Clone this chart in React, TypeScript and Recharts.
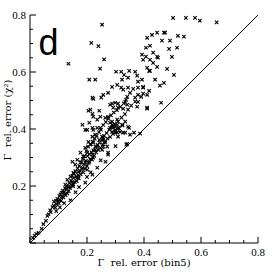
import React from 'react';
import { ScatterChart, Scatter, XAxis, YAxis, ReferenceLine, Label } from 'recharts';

// [bin5 rel. error, chi2 rel. error]
const coreBand: [number, number][] = [
  [0.010, 0.018], [0.016, 0.026], [0.022, 0.032], [0.030, 0.036], [0.041, 0.050], [0.047, 0.066],
  [0.056, 0.078], [0.061, 0.095], [0.065, 0.101], [0.071, 0.115], [0.073, 0.108], [0.079, 0.126],
  [0.083, 0.131], [0.084, 0.145], [0.089, 0.124], [0.091, 0.149], [0.093, 0.136], [0.096, 0.155],
  [0.099, 0.147], [0.101, 0.139], [0.103, 0.165], [0.105, 0.152], [0.107, 0.171], [0.109, 0.148],
  [0.111, 0.176], [0.113, 0.163], [0.115, 0.184], [0.117, 0.160], [0.119, 0.179], [0.121, 0.171],
  [0.123, 0.192], [0.125, 0.168], [0.127, 0.187], [0.129, 0.201], [0.131, 0.174], [0.133, 0.196],
  [0.136, 0.182], [0.138, 0.210], [0.141, 0.193], [0.144, 0.219], [0.146, 0.203], [0.148, 0.236],
  [0.151, 0.199], [0.153, 0.228], [0.155, 0.244], [0.157, 0.214], [0.159, 0.252], [0.162, 0.233],
  [0.164, 0.217], [0.167, 0.262], [0.169, 0.238], [0.171, 0.227], [0.173, 0.270], [0.175, 0.253],
  [0.178, 0.241], [0.180, 0.284], [0.182, 0.259], [0.185, 0.295], [0.187, 0.248], [0.189, 0.276],
  [0.191, 0.305], [0.193, 0.261], [0.196, 0.288], [0.198, 0.322], [0.200, 0.270], [0.202, 0.305],
  [0.204, 0.338], [0.206, 0.281], [0.208, 0.312], [0.211, 0.294], [0.213, 0.347], [0.216, 0.318],
  [0.218, 0.292], [0.220, 0.356], [0.222, 0.325], [0.225, 0.306], [0.227, 0.366], [0.229, 0.338],
  [0.232, 0.318], [0.234, 0.376], [0.237, 0.344], [0.239, 0.327], [0.242, 0.389], [0.244, 0.352],
  [0.247, 0.334], [0.249, 0.398], [0.252, 0.362], [0.255, 0.346], [0.257, 0.414], [0.260, 0.376],
  [0.263, 0.356], [0.266, 0.424], [0.269, 0.386], [0.272, 0.366], [0.275, 0.436], [0.278, 0.398],
  [0.281, 0.372], [0.284, 0.448], [0.287, 0.405], [0.291, 0.383], [0.294, 0.458], [0.297, 0.418],
  [0.301, 0.394], [0.305, 0.466], [0.309, 0.426], [0.313, 0.402], [0.317, 0.478], [0.321, 0.440],
  [0.325, 0.413], [0.329, 0.490], [0.333, 0.452], [0.337, 0.502],
];

const lowerEdge: [number, number][] = [
  [0.092, 0.112], [0.105, 0.125], [0.120, 0.140], [0.142, 0.150], [0.160, 0.178], [0.172, 0.196],
  [0.194, 0.212], [0.200, 0.232], [0.213, 0.248], [0.236, 0.264], [0.248, 0.290], [0.265, 0.285],
  [0.300, 0.340], [0.341, 0.348], [0.386, 0.384], [0.338, 0.345], [0.274, 0.310], [0.253, 0.327],
];

const midSpread: [number, number][] = [
  [0.184, 0.415], [0.194, 0.397], [0.222, 0.397], [0.208, 0.422], [0.236, 0.404], [0.219, 0.373],
  [0.229, 0.380], [0.205, 0.355], [0.212, 0.345], [0.222, 0.352], [0.236, 0.338], [0.243, 0.362],
  [0.257, 0.369], [0.194, 0.334], [0.177, 0.317], [0.187, 0.303], [0.201, 0.317], [0.219, 0.310],
  [0.222, 0.299], [0.229, 0.327], [0.166, 0.292], [0.149, 0.285], [0.159, 0.275], [0.177, 0.282],
  [0.194, 0.282], [0.208, 0.285], [0.184, 0.264], [0.201, 0.257], [0.170, 0.250], [0.152, 0.246],
  [0.142, 0.233], [0.166, 0.229], [0.131, 0.222], [0.149, 0.215], [0.124, 0.205], [0.135, 0.198],
  [0.152, 0.205], [0.219, 0.240], [0.274, 0.317],
  [0.281, 0.422], [0.292, 0.408], [0.299, 0.397], [0.306, 0.415], [0.288, 0.390], [0.306, 0.387],
  [0.309, 0.373], [0.327, 0.387], [0.348, 0.404], [0.351, 0.380], [0.334, 0.426], [0.253, 0.373],
  [0.257, 0.362], [0.264, 0.352], [0.271, 0.338], [0.257, 0.338],
  [0.212, 0.468], [0.219, 0.453], [0.222, 0.443], [0.247, 0.443], [0.264, 0.439], [0.274, 0.443],
  [0.236, 0.433], [0.288, 0.426], [0.306, 0.433], [0.288, 0.415], [0.299, 0.408], [0.309, 0.404],
  [0.281, 0.404], [0.323, 0.415], [0.344, 0.408], [0.219, 0.404], [0.247, 0.404], [0.201, 0.397],
  [0.334, 0.387], [0.299, 0.387], [0.316, 0.390], [0.365, 0.387],
];

const upperSpread: [number, number][] = [
  [0.323, 0.573], [0.344, 0.580], [0.379, 0.566], [0.320, 0.545], [0.327, 0.538], [0.344, 0.545],
  [0.362, 0.541], [0.379, 0.545], [0.397, 0.545], [0.351, 0.527], [0.379, 0.520], [0.369, 0.510],
  [0.390, 0.513], [0.411, 0.520], [0.341, 0.513], [0.334, 0.495], [0.341, 0.485], [0.274, 0.527],
  [0.257, 0.520], [0.219, 0.510], [0.288, 0.489], [0.309, 0.489], [0.292, 0.475], [0.309, 0.475],
  [0.376, 0.478], [0.379, 0.495], [0.411, 0.475], [0.344, 0.468],
  [0.222, 0.506], [0.250, 0.510], [0.288, 0.548], [0.306, 0.555], [0.205, 0.464], [0.243, 0.464],
  [0.281, 0.485], [0.299, 0.492], [0.327, 0.471], [0.355, 0.482], [0.369, 0.496],
  [0.302, 0.601], [0.320, 0.601], [0.348, 0.604], [0.330, 0.590], [0.369, 0.601], [0.376, 0.587],
  [0.421, 0.604], [0.393, 0.573], [0.439, 0.573], [0.456, 0.552], [0.470, 0.562], [0.505, 0.590],
  [0.397, 0.548], [0.418, 0.534], [0.397, 0.524], [0.460, 0.492], [0.411, 0.471],
  [0.428, 0.730], [0.411, 0.720], [0.446, 0.738], [0.470, 0.738], [0.463, 0.710], [0.407, 0.685],
  [0.421, 0.692], [0.432, 0.668], [0.393, 0.661], [0.407, 0.654], [0.397, 0.643], [0.421, 0.643],
  [0.446, 0.654], [0.449, 0.650], [0.432, 0.632], [0.446, 0.618], [0.411, 0.615], [0.418, 0.604],
  [0.502, 0.790], [0.547, 0.790], [0.579, 0.790], [0.596, 0.780], [0.655, 0.774], [0.474, 0.738],
  [0.491, 0.710], [0.519, 0.727], [0.540, 0.724], [0.488, 0.681], [0.516, 0.685], [0.498, 0.653],
  [0.481, 0.611],
];

const outliers: [number, number][] = [
  [0.135, 0.629], [0.253, 0.766], [0.215, 0.702], [0.240, 0.691], [0.260, 0.644], [0.246, 0.612],
  [0.208, 0.573], [0.229, 0.573],
];

const tickValues = [0, 0.05, 0.1, 0.15, 0.2, 0.25, 0.3, 0.35, 0.4, 0.45, 0.5, 0.55, 0.6, 0.65, 0.7, 0.75, 0.8];
const axisDomain: [number, number] = [0, 0.8];
const xTitle = 'Γ\u00a0\u00a0rel. error (bin5)';
const yTitle = 'Γ\u00a0\u00a0rel. error (χ²)';
const panelLetter = 'd';

const points = [...coreBand, ...lowerEdge, ...midSpread, ...upperSpread, ...outliers].map(([x, y]) => ({ x, y }));

const isMajor = (v: number) => Math.abs(v * 5 - Math.round(v * 5)) < 1e-6;
const fmt = (v: number) => v.toFixed(1);
const tickFont = { fontFamily: 'Liberation Serif', fontSize: 11, fill: '#000' };

const BottomTick = (p: any) => {
  const v = p.payload.value;
  const m = isMajor(v);
  return (
    <g>
      <line x1={p.x} x2={p.x} y1={p.y} y2={p.y - (m ? 6 : 3)} stroke="#000" strokeWidth={1} />
      {m && v > 0 && (
        <text x={p.x} y={p.y + 12.5} textAnchor="middle" {...tickFont}>{fmt(v)}</text>
      )}
    </g>
  );
};
const TopTick = (p: any) => {
  const m = isMajor(p.payload.value);
  return <line x1={p.x} x2={p.x} y1={p.y} y2={p.y + (m ? 6 : 3)} stroke="#000" strokeWidth={1} />;
};
const LeftTick = (p: any) => {
  const v = p.payload.value;
  const m = isMajor(v);
  return (
    <g>
      <line x1={p.x} x2={p.x + (m ? 6 : 3)} y1={p.y} y2={p.y} stroke="#000" strokeWidth={1} />
      {m && v > 0 && (
        <text x={p.x - 4} y={p.y + 4} textAnchor="end" {...tickFont}>{fmt(v)}</text>
      )}
    </g>
  );
};
const RightTick = (p: any) => {
  const m = isMajor(p.payload.value);
  return <line x1={p.x} x2={p.x - (m ? 6 : 3)} y1={p.y} y2={p.y} stroke="#000" strokeWidth={1} />;
};

const XMark = (p: any) => {
  const { cx, cy } = p;
  if (cx == null || cy == null) return <g />;
  const s = 1.7;
  return (
    <path
      d={`M${cx - s},${cy - s}L${cx + s},${cy + s}M${cx - s},${cy + s}L${cx + s},${cy - s}`}
      stroke="#000"
      strokeWidth={1.1}
      fill="none"
    />
  );
};

const titleFont = { fontFamily: 'DejaVu Serif', fontSize: 10, fill: '#000' };

const XTitle = (p: any) => {
  const vb = p.viewBox || {};
  return (
    <text x={vb.x + vb.width / 2} y={vb.y + vb.height - 7} textAnchor="middle" {...titleFont}>
      {xTitle}
    </text>
  );
};
const YTitle = (p: any) => {
  const vb = p.viewBox || {};
  const cy = vb.y + vb.height / 2 - 9;
  return (
    <text transform={`translate(11,${cy}) rotate(-90)`} textAnchor="middle" {...titleFont}>
      {yTitle}
    </text>
  );
};

export default function App() {
  return (
    <div style={{ position: 'absolute', left: 0, top: 0, width: 273, height: 273, background: '#fff' }}>
      <ScatterChart width={273} height={273} margin={{ top: 15, right: 15, bottom: 0, left: 0 }}>
        <XAxis
          xAxisId={0}
          dataKey="x"
          type="number"
          domain={axisDomain}
          ticks={tickValues}
          interval={0}
          height={30}
          tickSize={0}
          tickMargin={0}
          tickLine={false}
          tick={BottomTick}
          axisLine={{ stroke: '#000', strokeWidth: 1 }}
          allowDataOverflow
        >
          <Label content={XTitle} />
        </XAxis>
        <XAxis
          xAxisId="top"
          orientation="top"
          type="number"
          domain={axisDomain}
          ticks={tickValues}
          interval={0}
          height={0}
          tickSize={0}
          tickMargin={0}
          tickLine={false}
          tick={TopTick}
          axisLine={{ stroke: '#000', strokeWidth: 1 }}
          allowDataOverflow
        />
        <YAxis
          yAxisId={0}
          dataKey="y"
          type="number"
          domain={axisDomain}
          ticks={tickValues}
          interval={0}
          width={30}
          tickSize={0}
          tickMargin={0}
          tickLine={false}
          tick={LeftTick}
          axisLine={{ stroke: '#000', strokeWidth: 1 }}
          allowDataOverflow
        >
          <Label content={YTitle} />
        </YAxis>
        <YAxis
          yAxisId="right"
          orientation="right"
          type="number"
          domain={axisDomain}
          ticks={tickValues}
          interval={0}
          width={0}
          tickSize={0}
          tickMargin={0}
          tickLine={false}
          tick={RightTick}
          axisLine={{ stroke: '#000', strokeWidth: 1 }}
          allowDataOverflow
        />
        <ReferenceLine
          segment={[{ x: 0, y: 0 }, { x: 0.8, y: 0.8 }]}
          stroke="#000"
          strokeWidth={1}
          ifOverflow="visible"
        />
        <Scatter data={points} shape={XMark} isAnimationActive={false} />
      </ScatterChart>
      <svg width={273} height={273} style={{ position: 'absolute', left: 0, top: 0, pointerEvents: 'none' }}>
        <text x={38.5} y={55} fontFamily="Liberation Sans" fontSize={36} fill="#000">{panelLetter}</text>
      </svg>
    </div>
  );
}
